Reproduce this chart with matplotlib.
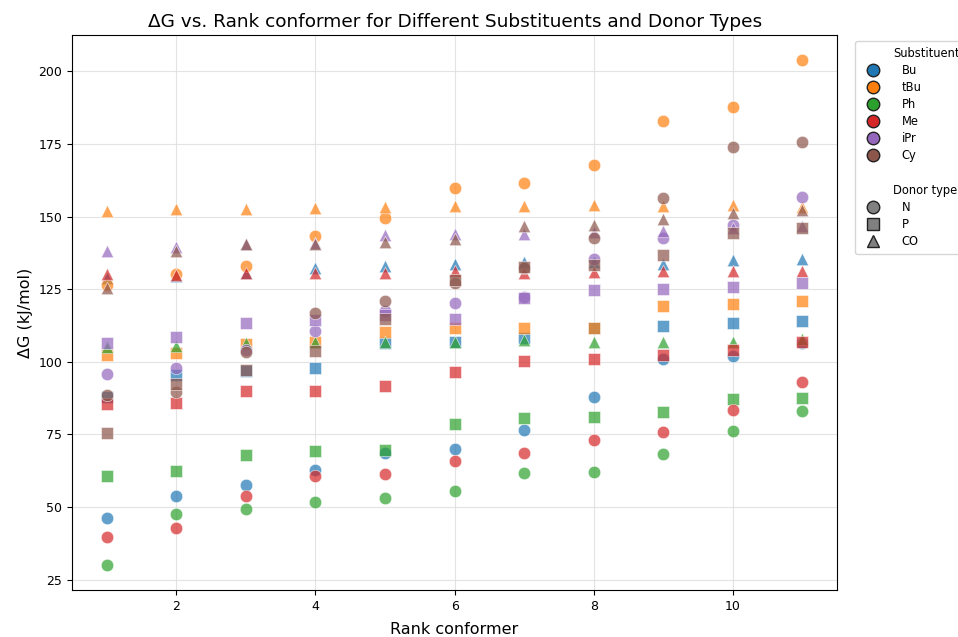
import matplotlib.pyplot as plt
from matplotlib.lines import Line2D
import numpy as np

ranks = list(range(1, 12))
substituents = ['Bu', 'tBu', 'Ph', 'Me', 'iPr', 'Cy']
donors = ['N', 'P', 'CO']

# dG values (kJ/mol) per substituent / donor type, rank 1..11
bu_n = [46.4, 53.9, 57.7, 62.8, 68.7, 70.0, 76.5, 87.8, 100.9, 101.9, 106.5]
bu_p = [88.0, 95.4, 97.0, 97.8, 106.4, 106.7, 108.1, 111.5, 112.2, 113.2, 113.9]
bu_co = [129.0, 129.4, 130.5, 132.4, 133.1, 133.8, 134.5, 134.2, 133.8, 135.2, 135.5]

tbu_n = [126.3, 130.4, 133.1, 143.4, 149.6, 159.9, 161.6, 167.8, 182.9, 187.7, 203.8]
tbu_p = [102.3, 103.0, 106.0, 106.7, 110.1, 111.5, 111.5, 111.5, 119.1, 119.8, 120.8]
tbu_co = [152.0, 152.7, 152.7, 153.0, 153.4, 153.7, 153.7, 154.0, 153.7, 154.0, 153.4]

ph_n = [30.2, 47.7, 49.4, 51.8, 53.2, 55.6, 61.8, 62.0, 68.3, 76.2, 83.1]
ph_p = [60.8, 62.5, 68.0, 69.3, 69.7, 78.6, 80.5, 80.9, 82.7, 87.2, 87.5]
ph_co = [105.0, 105.3, 106.4, 106.7, 106.7, 107.0, 107.4, 107.0, 107.0, 107.0, 107.7]

me_n = [39.8, 42.9, 53.9, 60.6, 61.5, 65.9, 68.7, 73.0, 75.9, 83.4, 92.9]
me_p = [85.4, 85.8, 89.9, 89.9, 91.6, 96.4, 100.2, 100.9, 102.3, 104.0, 106.7]
me_co = [130.4, 130.0, 130.7, 130.7, 130.7, 131.1, 130.7, 131.0, 131.1, 131.4, 131.4]

ipr_n = [95.7, 97.8, 104.0, 110.5, 117.4, 120.1, 122.2, 135.5, 142.7, 147.2, 156.8]
ipr_p = [106.4, 108.4, 113.2, 114.3, 116.0, 114.9, 122.0, 124.6, 124.9, 125.6, 127.0]
ipr_co = [138.0, 139.6, 140.5, 141.0, 143.8, 144.1, 144.1, 144.8, 145.1, 146.0, 146.8]

cy_n = [88.5, 89.6, 103.3, 116.7, 120.8, 127.0, 132.4, 142.7, 156.4, 173.9, 175.6]
cy_p = [75.5, 92.3, 97.1, 103.6, 114.9, 128.0, 132.8, 133.5, 136.9, 144.5, 146.2]
cy_co = [125.5, 138.3, 140.7, 140.7, 141.4, 142.4, 146.8, 147.2, 149.2, 151.3, 152.3]

data = {
    'Bu': [bu_n, bu_p, bu_co],
    'tBu': [tbu_n, tbu_p, tbu_co],
    'Ph': [ph_n, ph_p, ph_co],
    'Me': [me_n, me_p, me_co],
    'iPr': [ipr_n, ipr_p, ipr_co],
    'Cy': [cy_n, cy_p, cy_co],
}

colors = ['#1f77b4', '#ff7f0e', '#2ca02c', '#d62728', '#9467bd', '#8c564b']
markers = ['o', 's', '^']

fig = plt.figure(figsize=(9.58, 6.37), dpi=100)
ax = fig.add_axes([0.075, 0.074, 0.799, 0.871])

for sub, col in zip(substituents, colors):
    for vals, mk in zip(data[sub], markers):
        ax.scatter(ranks, vals, s=80, marker=mk, color=col, alpha=0.7,
                   edgecolors='white', linewidths=0.5)

ax.grid(True, color='#dddddd', linewidth=0.8, alpha=0.8)
ax.set_axisbelow(True)
ax.tick_params(labelsize=9)
ax.set_xlabel('Rank conformer', fontsize=11.5, labelpad=7)
ax.set_ylabel('ΔG (kJ/mol)', fontsize=11.5)
ax.set_title('ΔG vs. Rank conformer for Different Substituents and Donor Types',
             fontsize=13.3)

# legend: substituent colours, then donor markers
handles = [Line2D([], [], linestyle='', marker='')]
labels = ['Substituent']
for sub, col in zip(substituents, colors):
    handles.append(Line2D([], [], linestyle='', marker='o', markersize=9,
                          markerfacecolor=col, markeredgecolor='#222222'))
    labels.append(sub)
handles.append(Line2D([], [], linestyle='', marker=''))
labels.append('')
handles.append(Line2D([], [], linestyle='', marker=''))
labels.append('Donor type')
for d, mk in zip(donors, markers):
    handles.append(Line2D([], [], linestyle='', marker=mk, markersize=9,
                          markerfacecolor='gray', markeredgecolor='#222222'))
    labels.append(d)
leg = ax.legend(handles, labels, loc='upper left', bbox_to_anchor=(1.016, 1),
                fontsize=8.3, frameon=True, labelspacing=0.36,
                handletextpad=1.5, borderpad=0.5)
# subtitles sit a little left of the entry labels
for t in (leg.get_texts()[0], leg.get_texts()[8]):
    t.set_x(-8)

fig.savefig('out.png', dpi=100)
